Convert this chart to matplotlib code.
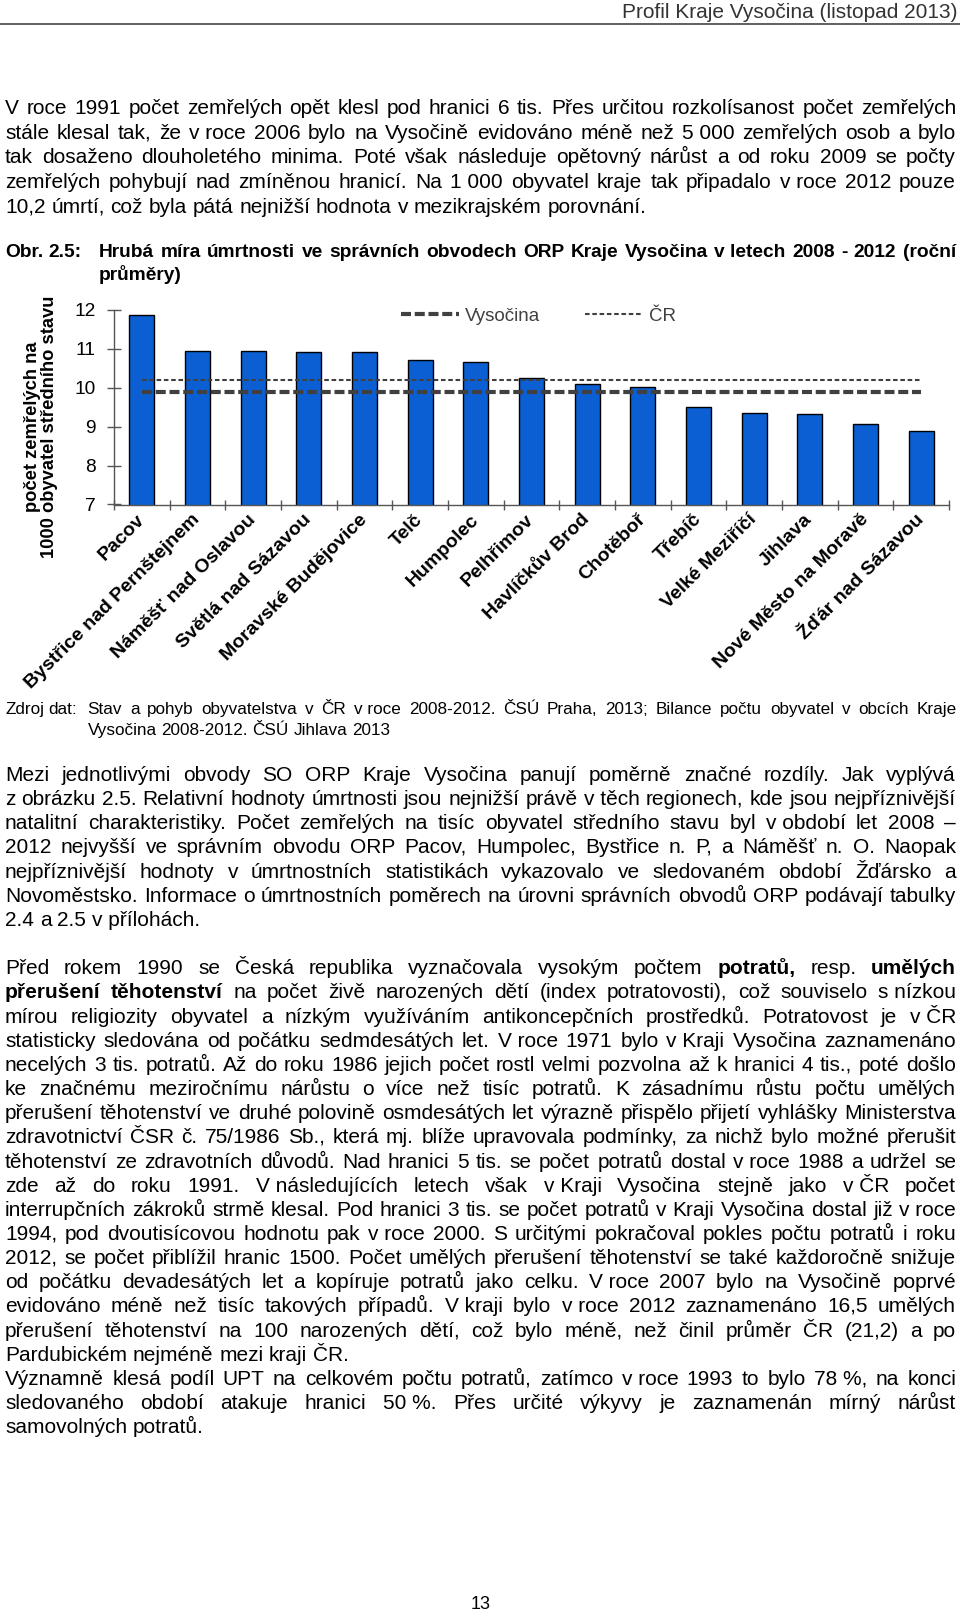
import matplotlib
matplotlib.use("Agg")
import matplotlib.pyplot as plt
from matplotlib.lines import Line2D
from matplotlib.transforms import ScaledTranslation
import numpy as np

plt.rcParams['font.family'] = 'Liberation Sans'

# hrubá míra úmrtnosti podle ORP, průměr 2008-2012
orp = ["Pacov", "Bystřice nad Pernštejnem", "Náměšť nad Oslavou",
       "Světlá nad Sázavou", "Moravské Budějovice", "Telč", "Humpolec",
       "Pelhřimov", "Havlíčkův Brod", "Chotěboř", "Třebíč",
       "Velké Meziříčí", "Jihlava", "Nové Město na Moravě",
       "Žďár nad Sázavou"]
umrtnost = [11.88, 10.95, 10.95, 10.93, 10.93, 10.71, 10.66, 10.26,
            10.11, 10.02, 9.51, 9.35, 9.32, 9.06, 8.88]
prumer_vysocina = 9.88
prumer_cr = 10.19
y_ticks = [7, 8, 9, 10, 11, 12]
y_label = "počet zemřelých na\n1000 obyvatel středního stavu"

header = "Profil Kraje Vysočina (listopad 2013)"
odst1 = [
    "V roce 1991 počet zemřelých opět klesl pod hranici 6 tis. Přes určitou rozkolísanost počet zemřelých",
    "stále klesal tak, že v~roce 2006 bylo na Vysočině evidováno méně než 5~000 zemřelých osob a bylo",
    "tak dosaženo dlouholetého minima. Poté však následuje opětovný nárůst a od roku 2009 se počty",
    "zemřelých pohybují nad zmíněnou hranicí. Na 1~000 obyvatel kraje tak připadalo v~roce 2012 pouze",
    "10,2 úmrtí, což byla pátá nejnižší hodnota v mezikrajském porovnání.",
]
obr = "Obr. 2.5:"
titulek = [
    "Hrubá míra úmrtnosti ve správních obvodech ORP Kraje Vysočina v~letech 2008 - 2012 (roční",
    "průměry)",
]
zdroj_nadpis = "Zdroj dat:"
zdroj = [
    "Stav a pohyb obyvatelstva v ČR v~roce 2008-2012. ČSÚ Praha, 2013; Bilance počtu obyvatel v obcích Kraje",
    "Vysočina 2008-2012. ČSÚ Jihlava 2013",
]
odst2 = [
    "Mezi jednotlivými obvody SO ORP Kraje Vysočina panují poměrně značné rozdíly. Jak vyplývá",
    "z obrázku 2.5. Relativní hodnoty úmrtnosti jsou nejnižší právě v~těch regionech, kde jsou nejpříznivější",
    "natalitní charakteristiky. Počet zemřelých na tisíc obyvatel středního stavu byl v~období let 2008 –",
    "2012 nejvyšší ve správním obvodu ORP Pacov, Humpolec, Bystřice n. P, a Náměšť n. O. Naopak",
    "nejpříznivější hodnoty v úmrtnostních statistikách vykazovalo ve sledovaném období Žďársko a",
    "Novoměstsko. Informace o úmrtnostních poměrech na úrovni správních obvodů ORP podávají tabulky",
    "2.4 a 2.5 v~přílohách.",
]
odst3 = [
    "Před rokem 1990 se Česká republika vyznačovala vysokým počtem *potratů, resp. *umělých",
    "*přerušení *těhotenství na počet živě narozených dětí (index potratovosti), což souviselo s~nízkou",
    "mírou religiozity obyvatel a nízkým využíváním antikoncepčních prostředků. Potratovost je v~ČR",
    "statisticky sledována od počátku sedmdesátých let. V~roce 1971 bylo v~Kraji Vysočina zaznamenáno",
    "necelých 3 tis. potratů. Až do roku 1986 jejich počet rostl velmi pozvolna až k hranici 4 tis., poté došlo",
    "ke značnému meziročnímu nárůstu o více než tisíc potratů. K zásadnímu růstu počtu umělých",
    "přerušení těhotenství ve druhé polovině osmdesátých let výrazně přispělo přijetí vyhlášky Ministerstva",
    "zdravotnictví ČSR č. 75/1986 Sb., která mj. blíže upravovala podmínky, za nichž bylo možné přerušit",
    "těhotenství ze zdravotních důvodů. Nad hranici 5 tis. se počet potratů dostal v~roce 1988 a udržel se",
    "zde až do roku 1991. V~následujících letech však v~Kraji Vysočina stejně jako v~ČR počet",
    "interrupčních zákroků strmě klesal. Pod hranici 3 tis. se počet potratů v Kraji Vysočina dostal již v~roce",
    "1994, pod dvoutisícovou hodnotu pak v~roce 2000. S určitými pokračoval pokles počtu potratů i roku",
    "2012, se počet přiblížil hranic 1500. Počet umělých přerušení těhotenství se také každoročně snižuje",
    "od počátku devadesátých let a kopíruje potratů jako celku. V~roce 2007 bylo na Vysočině poprvé",
    "evidováno méně než tisíc takových případů. V~kraji bylo v~roce 2012 zaznamenáno 16,5 umělých",
    "přerušení těhotenství na 100 narozených dětí, což bylo méně, než činil průměr ČR (21,2) a po",
    "Pardubickém nejméně mezi kraji ČR.",
]
odst4 = [
    "Významně klesá podíl UPT na celkovém počtu potratů, zatímco v~roce 1993 to bylo 78~%, na konci",
    "sledovaného období atakuje hranici 50~%. Přes určité výkyvy je zaznamenán mírný nárůst",
    "samovolných potratů.",
]
strana = "13"

W, H = 960, 1613
fig = plt.figure(figsize=(W / 100, H / 100), dpi=100)
rend = fig.canvas.get_renderer()


def fy(py):
    return 1 - py / H


def radek(text, x0, x1, base, size, justify=True, bold=False, indent=0):
    # účaří na čtvrt pixelu nad celým pixelem, aby se slova se
    # čárkou nezaokrouhlila jinak než ostatní
    base = np.floor(base) + 0.75
    words = text.split()
    arts = []
    for w in words:
        b = bold or w.startswith('*')
        s = w.lstrip('*').replace('~', ' ')
        arts.append(fig.text(0, fy(base), s, fontsize=size,
                             fontweight='bold' if b else 'normal',
                             va='baseline', ha='left'))
    widths = [a.get_window_extent(rend).width for a in arts]
    gap = size * 100 / 72 * 0.278
    if justify and len(arts) > 1:
        gap = (x1 - x0 - indent - sum(widths)) / (len(arts) - 1)
    x = x0 + indent
    for a, w in zip(arts, widths):
        a.set_x(x / W)
        x += w + gap


def odstavec(lines, x0, x1, base0, step, size, bold=False):
    for i, l in enumerate(lines):
        radek(l, x0, x1, base0 + i * step, size,
              justify=(i < len(lines) - 1), bold=bold)


# hlavička stránky
fig.text(957 / W, fy(18), header, fontsize=15, color='#333333',
         ha='right', va='baseline')
fig.add_artist(Line2D([0, 1], [fy(24), fy(24)], transform=fig.transFigure,
                      color='#444444', lw=1.2))

odstavec(odst1, 5, 956, 113.5, 24.7, 15)

radek(obr, 5, 956, 256, 13.8, justify=False, bold=True)
odstavec(titulek, 99, 956, 256, 23.7, 13.8, bold=True)

# graf
ax = fig.add_axes([114 / W, 1 - 504.5 / H, (949 - 114) / W, (504.5 - 310) / H])
x = np.arange(len(orp))
ax.bar(x, umrtnost, width=0.45, color='#0b5fd3', edgecolor='black',
       linewidth=1.0, zorder=2)
ax.plot([x[0], x[-1]], [prumer_vysocina, prumer_vysocina], color='#404040',
        lw=3, dashes=(2.4, 0.9), label='Vysočina', zorder=3)
ax.plot([x[0], x[-1]], [prumer_cr, prumer_cr], color='#404040',
        lw=1.5, dashes=(2.2, 1.3), label='ČR', zorder=3)
ax.set_xlim(-0.5, len(orp) - 0.5)
ax.set_ylim(y_ticks[0], y_ticks[-1])
ax.set_yticks(y_ticks)
ax.set_xticks(x)
ax.set_xticklabels(orp, rotation=45, ha='right', va='center',
                   rotation_mode='anchor', fontsize=14, fontweight='bold')
posun = ScaledTranslation(4 / 100, 0, fig.dpi_scale_trans)
for lab in ax.get_xticklabels():
    lab.set_transform(lab.get_transform() + posun)
ax.set_xticks(np.arange(-0.5, len(orp)), minor=True)
ax.tick_params(axis='x', which='major', length=0, pad=9)
ax.tick_params(axis='x', which='minor', length=7, direction='inout',
               color='#555555', width=1)
ax.tick_params(axis='y', direction='inout', length=9.6, pad=8.5,
               labelsize=13.8, color='#555555', width=1)
for s in ['top', 'right']:
    ax.spines[s].set_visible(False)
for s in ['left', 'bottom']:
    ax.spines[s].set_color('#555555')
    ax.spines[s].set_linewidth(1)
ax.legend(loc='center left', bbox_to_anchor=(401 / W, fy(316)),
          bbox_transform=fig.transFigure, ncol=2, frameon=False,
          fontsize=13.5, handlelength=3.1, handletextpad=0.3,
          columnspacing=2.4, borderpad=0, borderaxespad=0,
          labelcolor='#404040')
fig.text(41 / W, fy(427), y_label, rotation=90, ha='center', va='center',
         fontsize=13.2, fontweight='bold', linespacing=1.05,
         multialignment='center')

radek(zdroj_nadpis, 5, 956, 713.5, 12.3, justify=False)
odstavec(zdroj, 87.5, 957, 713.5, 20.5, 12.3)

odstavec(odst2, 5, 956, 780.3, 24.2, 15)
odstavec(odst3, 5, 956, 973.8, 24.15, 15)
odstavec(odst4, 5, 956, 973.8 + 17 * 24.15, 24.15, 15)

fig.text(481 / W, fy(1609), strana, fontsize=13, ha='center', va='baseline')

fig.savefig("out.png", dpi=100)
